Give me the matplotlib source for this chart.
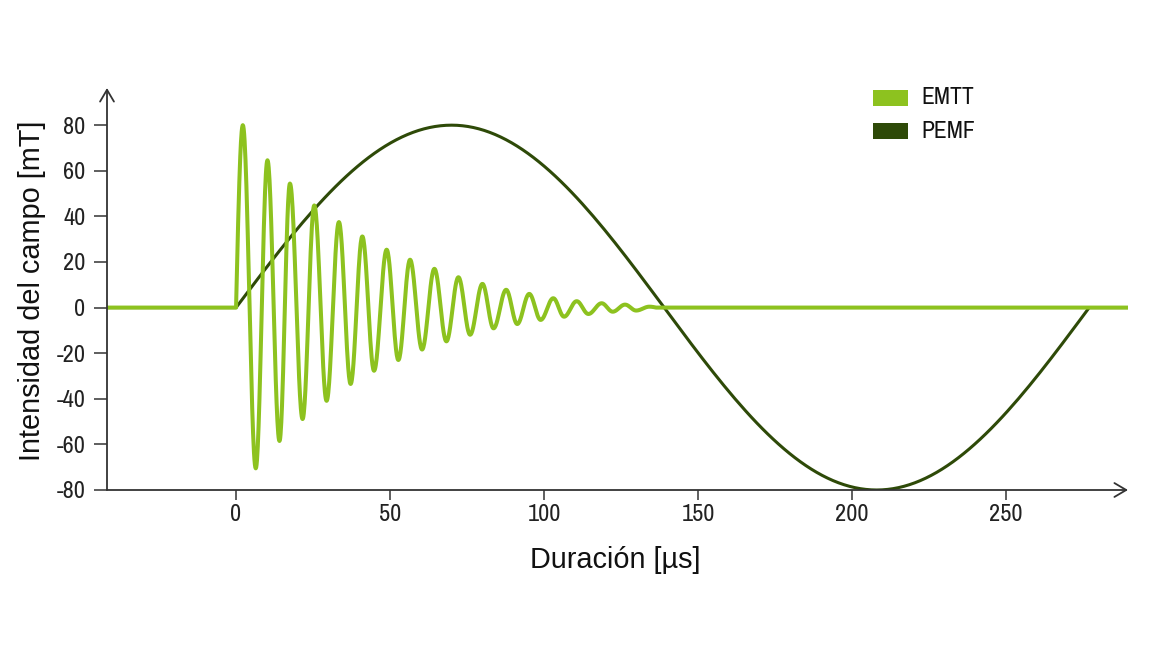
import numpy as np
import matplotlib
matplotlib.use("Agg")
import matplotlib.pyplot as plt
from matplotlib.patches import Rectangle
from matplotlib import font_manager as fm

# ---- data ----
# EMTT: damped oscillation, key points (start, extrema, end) in µs / mT
emtt_t = [-41.9, 0.0, 2.2, 6.4, 10.2, 14.1, 17.5, 21.6, 25.4, 29.4, 33.4, 37.2,
          41.0, 44.8, 48.9, 52.7, 56.5, 60.4, 64.4, 68.3, 72.2, 76.0, 80.0,
          83.6, 87.7, 91.3, 95.2, 98.9, 103.0, 106.5, 110.6, 114.4, 118.7,
          122.3, 126.3, 129.9, 134.2, 136.4, 289.6]
emtt_v = [0, 0, 80, -70.5, 64.6, -58.5, 54.4, -48.9, 44.8, -40.9, 37.5, -33.5,
          31.2, -27.7, 25.4, -23.0, 21.0, -18.4, 17.0, -14.8, 13.3, -11.9, 10.4,
          -9.1, 7.8, -7.2, 6.0, -5.4, 4.1, -4.0, 2.8, -2.8, 1.9,
          -1.8, 1.3, -1.3, 0.4, 0, 0]
# PEMF: one sine period, key points
pemf_t = [-41.9, 0.0, 70.0, 139.0, 208.0, 277.0, 289.6]
pemf_v = [0, 0, 80, 0, -80, 0, 0]

series_names = ["EMTT", "PEMF"]
x_ticks = [0, 50, 100, 150, 200, 250]
y_ticks = [-80, -60, -40, -20, 0, 20, 40, 60, 80]

GREEN = "#8dc21f"
DARK = "#2e4a08"
AXC = "#333333"


def smooth(tk, vk, n=40):
    """Draw a smooth line through key points: rounded at extrema."""
    xs, ys = [], []
    for i in range(len(tk) - 1):
        ta, tb, va, vb = tk[i], tk[i + 1], vk[i], vk[i + 1]
        s = np.linspace(0, 1, n)
        if va == 0 and vb == 0:
            v = np.zeros_like(s)
        elif va == 0:
            v = vb * np.sin(np.pi / 2 * s)
        elif vb == 0:
            v = va * np.cos(np.pi / 2 * s)
        else:
            v = va + (vb - va) * (1 - np.cos(np.pi * s)) / 2
        xs.append(ta + (tb - ta) * s)
        ys.append(v)
    return np.concatenate(xs), np.concatenate(ys)


# find a condensed sans font if one is installed
def pick_condensed():
    best = None
    for f in fm.fontManager.ttflist:
        nm = f.name
        st = str(f.stretch)
        is_cond = ("Condensed" in nm or "Narrow" in nm or st in ("condensed", "semi-condensed", "extra-condensed"))
        if not is_cond or f.style != "normal":
            continue
        if "Mono" in nm or "Serif" in nm:
            continue
        w = f.weight if isinstance(f.weight, int) else 400
        if w not in (400, "normal"):
            continue
        score = 0 if ("Narrow" in nm or "Roboto" in nm or "Open" in nm) else 1
        if best is None or score < best[0]:
            best = (score, f.fname)
    return best[1] if best else None


cfile = pick_condensed()
if cfile:
    def cprop(size):
        return fm.FontProperties(fname=cfile, size=size)
else:
    def cprop(size):
        return fm.FontProperties(family=["Liberation Sans", "DejaVu Sans"], size=size * 0.9)

reg = ["Liberation Sans", "DejaVu Sans"]

fig = plt.figure(figsize=(11.56, 6.5), dpi=100)
L, R, B, T = 107 / 1156, 1128 / 1156, (650 - 490) / 650, (650 - 88) / 650
ax = fig.add_axes([L, B, R - L, T - B])
ax.set_xlim(-41.9, 289.6)
ax.set_ylim(-80, 96.3)

px, py = smooth(pemf_t, pemf_v)
ax.plot(px, py, color=DARK, lw=2.2, solid_capstyle="round", zorder=2)
ex, ey = smooth(emtt_t, emtt_v, n=30)
ax.plot(ex, ey, color=GREEN, lw=2.9, solid_joinstyle="round", zorder=3)

for s in ax.spines.values():
    s.set_visible(False)

ax.set_xticks(x_ticks)
ax.set_yticks(y_ticks)
ax.set_xticklabels([str(v) for v in x_ticks], fontproperties=cprop(17.5), color="#222222")
ax.set_yticklabels([str(v) for v in y_ticks], fontproperties=cprop(17.5), color="#222222")
ax.tick_params(axis="x", length=7, width=1.1, color=AXC, pad=3)
ax.tick_params(axis="y", length=9.5, width=1.1, color=AXC, pad=6)

# axes with open arrow heads
arr = dict(arrowstyle="->,head_length=0.85,head_width=0.5", color=AXC, lw=1.3,
           shrinkA=0, shrinkB=0, mutation_scale=10)
ax.annotate("", xy=(1, 0), xytext=(0, 0), xycoords="axes fraction",
            textcoords="axes fraction", arrowprops=arr, annotation_clip=False)
ax.annotate("", xy=(0, 1), xytext=(0, 0), xycoords="axes fraction",
            textcoords="axes fraction", arrowprops=arr, annotation_clip=False)

fig.text(615 / 1156, 1 - 560 / 650, "Duración [µs]", family=reg, fontsize=20.8,
         ha="center", va="center", color="#111111")
fig.text(32 / 1156, 1 - 291 / 650, "Intensidad del campo [mT]", family=reg,
         fontsize=20.8, rotation=90, ha="center", va="center", color="#111111")

# legend
for i, (name, col) in enumerate(zip(series_names, [GREEN, DARK])):
    yc = 98 + i * 33
    fig.patches.append(Rectangle((873 / 1156, 1 - (yc + 8) / 650), 35 / 1156, 16 / 650,
                                 transform=fig.transFigure, color=col, lw=0))
    fig.text(921 / 1156, 1 - yc / 650, name, fontproperties=cprop(17),
             ha="left", va="center", color="#111111")

fig.savefig("out.png", dpi=100, facecolor="white")
